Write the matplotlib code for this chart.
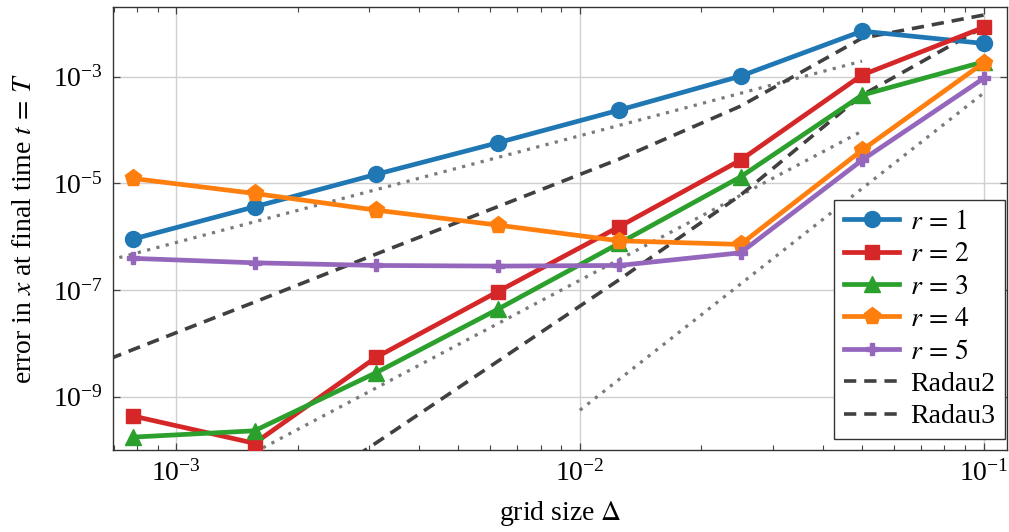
import numpy as np
import matplotlib
matplotlib.use('Agg')
import matplotlib.pyplot as plt
from matplotlib.ticker import FixedLocator, LogFormatterSciNotation, LogLocator, NullLocator

plt.rcParams['font.family'] = ['Liberation Serif', 'DejaVu Serif']
plt.rcParams['mathtext.fontset'] = 'stix'

# grid sizes, 0.1 halved each step
delta = [0.1, 0.05, 0.025, 0.0125, 0.00625, 0.003125, 0.0015625, 0.00078125]
delta_radau = [0.1, 0.05, 0.025, 0.0125, 0.00625, 0.003125, 0.0015625, 0.00078125, 0.000390625]

# errors
err_r1 = [4.23e-3, 7.19e-3, 1.03e-3, 2.37e-4, 5.78e-5, 1.48e-5, 3.65e-6, 9.06e-7]
err_r2 = [8.43e-3, 1.08e-3, 2.74e-5, 1.54e-6, 9.31e-8, 5.47e-9, 1.34e-10, 4.35e-10]
err_r3 = [1.91e-3, 4.54e-4, 1.33e-5, 7.52e-7, 4.35e-8, 2.82e-9, 2.30e-10, 1.75e-10]
err_r4 = [1.83e-3, 4.22e-5, 7.19e-7, 8.41e-7, 1.66e-6, 3.16e-6, 6.50e-6, 1.24e-5]
err_r5 = [9.33e-4, 2.74e-5, 5.01e-7, 2.90e-7, 2.82e-7, 2.90e-7, 3.25e-7, 3.94e-7]
err_radau2 = [1.44e-2, 5.32e-3, 2.82e-4, 2.86e-5, 3.66e-6, 4.73e-7, 5.96e-8, 7.67e-9, 9.59e-10]
err_radau3 = [8.55e-3, 4.54e-4, 6.05e-6, 1.56e-7, 4.59e-9, 1.36e-10, 4.3e-12]

# dotted reference slopes (order 2, 4, 6), endpoints only
ref2_x = [6.5e-4, 0.05]
ref2_y = [3.3e-7, 1.97e-3]
ref4_x = [1.5625e-3, 0.05]
ref4_y = [9.1e-11, 9.6e-5]
ref6_x = [0.01, 0.1]
ref6_y = [5.6e-10, 4.94e-4]

series = [
    ('$r\\,=\\,1$', err_r1, '#1f77b4', 'o', 11.5),
    ('$r\\,=\\,2$', err_r2, '#d62728', 's', 10.5),
    ('$r\\,=\\,3$', err_r3, '#2ca02c', '^', 12),
    ('$r\\,=\\,4$', err_r4, '#ff7f0e', 'p', 12.5),
    ('$r\\,=\\,5$', err_r5, '#9467bd', 'P', 8.5),
]
FS = 20

fig = plt.figure(figsize=(10.09, 5.32), dpi=100)
ax = fig.add_axes([0.112, 0.154, 0.886, 0.832])

dot_kw = dict(color='#7a7a7a', lw=2.3, dashes=(1.0, 2.0), zorder=2)
ax.plot(ref2_x, ref2_y, **dot_kw)
ax.plot(ref4_x, ref4_y, **dot_kw)
ax.plot(ref6_x, ref6_y, **dot_kw)

h_r2, = ax.plot(delta_radau, err_radau2, color='#404040', lw=2.6, dashes=(3.4, 2.2), zorder=2, label='Radau2')
h_r3, = ax.plot(delta_radau[:len(err_radau3)], err_radau3, color='#404040', lw=2.6, dashes=(3.4, 2.2), zorder=2, label='Radau3')

handles = []
for label, err, col, mk, ms in series:
    h, = ax.plot(delta, err, color=col, lw=3.4, marker=mk, ms=ms, zorder=3, label=label)
    handles.append(h)
handles += [h_r2, h_r3]

ax.set_xscale('log')
ax.set_yscale('log')
ax.set_xlim(6.97e-4, 0.1143)
ax.set_ylim(1.0e-10, 2.0e-2)

ax.yaxis.set_major_locator(FixedLocator([1e-9, 1e-7, 1e-5, 1e-3]))
ax.yaxis.set_major_formatter(LogFormatterSciNotation())
ax.yaxis.set_minor_locator(NullLocator())
ax.xaxis.set_major_locator(FixedLocator([1e-3, 1e-2, 1e-1]))
ax.xaxis.set_minor_locator(LogLocator(base=10, subs=np.arange(2, 10)))

ax.tick_params(which='both', direction='in', top=True, right=True, labelsize=FS, color='#444444')
ax.tick_params(which='major', length=5, width=0.9, pad=7)
ax.tick_params(which='minor', length=3.5, width=0.8)
ax.grid(True, which='major', color='#d0d0d0', lw=1.0)
ax.set_axisbelow(True)
for sp in ax.spines.values():
    sp.set_color('#333333')
    sp.set_linewidth(1.0)

ax.set_xlabel('grid size $\\Delta$', fontsize=FS, labelpad=9)
ax.set_ylabel('error in $x$ at final time $t\\,=\\,T$', fontsize=FS, labelpad=12)

leg = ax.legend(handles=handles, loc='lower right', bbox_to_anchor=(0.998, 0.025),
                fontsize=FS, frameon=True, fancybox=False, edgecolor='#333333',
                framealpha=1, handlelength=2.0, labelspacing=0.25, borderpad=0.35,
                handletextpad=0.4, borderaxespad=0)
leg.get_frame().set_linewidth(1.0)

fig.savefig('out.png', dpi=100)
